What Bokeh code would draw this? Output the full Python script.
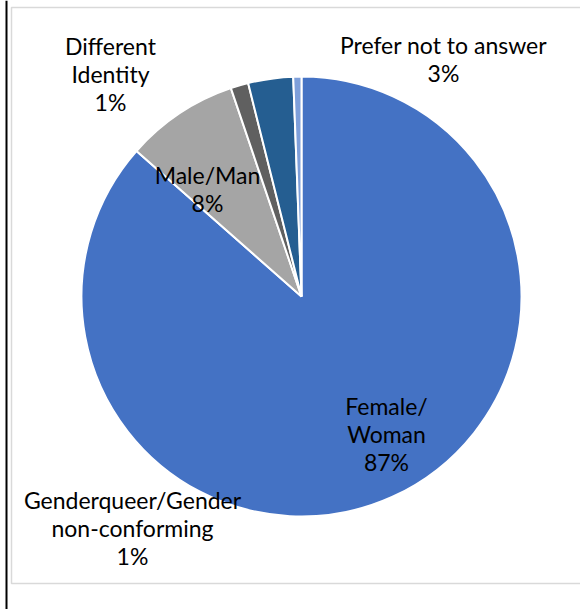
import math
from bokeh.plotting import figure
from bokeh.models import Range1d, ColumnDataSource
from bokeh.core.properties import value
from bokeh.embed import file_html
from bokeh.resources import INLINE

# Gender identity of respondents (share of responses, %)
categories = ["Female/Woman", "Male/Man", "Different Identity",
              "Prefer not to answer", "Genderqueer/Gender non-conforming"]
shares = [86.5, 8.3, 1.3, 3.3, 0.6]
colors = ["#4472C4", "#A5A5A5", "#606060", "#255E91", "#7E9FDA"]
label_lines = ["Female/\nWoman", "Male/Man", "Different\nIdentity",
               "Prefer not to answer", "Genderqueer/Gender\nnon-conforming"]

W, H = 580, 609
p = figure(width=W, height=H, output_backend="svg", toolbar_location=None,
           x_range=Range1d(0, W), y_range=Range1d(0, H),
           min_border=0, outline_line_color=None)
p.axis.visible = False
p.grid.visible = False
p.background_fill_color = "white"
p.border_fill_color = "white"

# chart frame and page edge
p.quad(left=[11], right=[W + 5], bottom=[H - 583], top=[H - 7],
       fill_color=None, line_color="#D9D9D9", line_width=1.5)
p.segment(x0=[6], y0=[0], x1=[6], y1=[H], line_color="black", line_width=2)

# pie wedges, clockwise from 12 o'clock
cx, cy, r = 301, H - 296, 220
total = sum(shares)
starts, ends = [], []
acc = 0.0
for s in shares:
    starts.append(math.pi / 2 - 2 * math.pi * acc / total)
    acc += s
    ends.append(math.pi / 2 - 2 * math.pi * acc / total)

src = ColumnDataSource(dict(cat=categories, share=shares, color=colors,
                            start=starts, end=ends))
p.wedge(x=cx, y=cy, radius=r, start_angle="start", end_angle="end",
        direction="clock", fill_color="color", line_color="white",
        line_width=2, source=src)

# data labels
label_pos = {
    "Female/Woman": (386, 433),
    "Male/Man": (207, 188),
    "Different Identity": (110, 73),
    "Prefer not to answer": (443, 58),
    "Genderqueer/Gender non-conforming": (132, 527),
}
lx, ly, lt = [], [], []
for cat, s, name in zip(categories, shares, label_lines):
    pct = int(math.floor(100 * s / total + 0.5))
    x, y = label_pos[cat]
    lx.append(x)
    ly.append(H - y)
    lt.append(f"{name}\n{pct}%")

p.text(x=lx, y=ly, text=lt, text_align="center", text_baseline="middle",
       text_font=value("Lato"), text_font_size="23px", text_color="black",
       text_line_height=1.0)

open("out.html", "w").write(file_html(p, INLINE))
